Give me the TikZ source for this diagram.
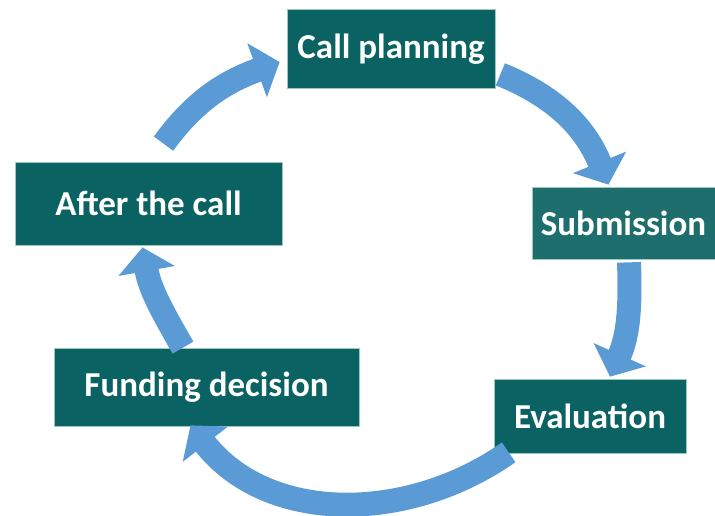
\documentclass[tikz,border=0pt]{standalone}
\usepackage{fontspec}
\setmainfont{Carlito}
\usetikzlibrary{arrows.meta}
\definecolor{boxteal}{HTML}{0A6262}
\definecolor{subteal}{HTML}{1D6E6C}
\definecolor{boxedge}{HTML}{9CC9C2}
\definecolor{cycleblue}{HTML}{5B9BD5}
\tikzset{
    stage/.style={rectangle, fill=boxteal, draw=boxedge, line width=0.7pt, text=white,
        font=\fontsize{35}{42}\selectfont\bfseries, inner sep=0pt},
    cyc/.style={cycleblue, line width=24pt, -{Triangle[width=56pt,length=24pt]}}
}
\begin{document}
\begin{tikzpicture}[x=1pt,y=1pt]
            \useasboundingbox (0,0) rectangle (715,516);

            \node[stage, minimum width=208pt, minimum height=79pt] (plan) at (391,467) {Call planning};
            \node[stage, fill=subteal, minimum width=183pt, minimum height=72pt] (sub) at (623.5,293) {Submission};
            \node[stage, minimum width=192pt, minimum height=74pt] (eval) at (590,100) {Evaluation};
            \node[stage, minimum width=305pt, minimum height=78pt] (fund) at (206.5,129) {Funding decision};
            \node[stage, minimum width=267pt, minimum height=83pt] (after) at (148.5,312.5) {After the call};

            \draw[cyc] ([shift={(15,18)}]after.north) to[out=54, in=200] ([shift={(-7,-13)}]plan.west);
            \draw[cyc] ([shift={(5,14.5)}]plan.south east) to[out=-22, in=112] ([shift={(-15,2)}]sub.north);
            \draw[cyc] ([shift={(5.5,-3)}]sub.south) to[out=-88, in=66] ([shift={(20,2)}]eval.north);
            \draw[cyc] ([shift={(15,1)}]eval.south west) to[out=-145, in=-52] ([shift={(-16,1)}]fund.south);
            \draw[cyc] ([shift={(-23.5,0)}]fund.north) to[out=120, in=-80] ([shift={(-6,-2)}]after.south);
        \end{tikzpicture}
\end{document}
